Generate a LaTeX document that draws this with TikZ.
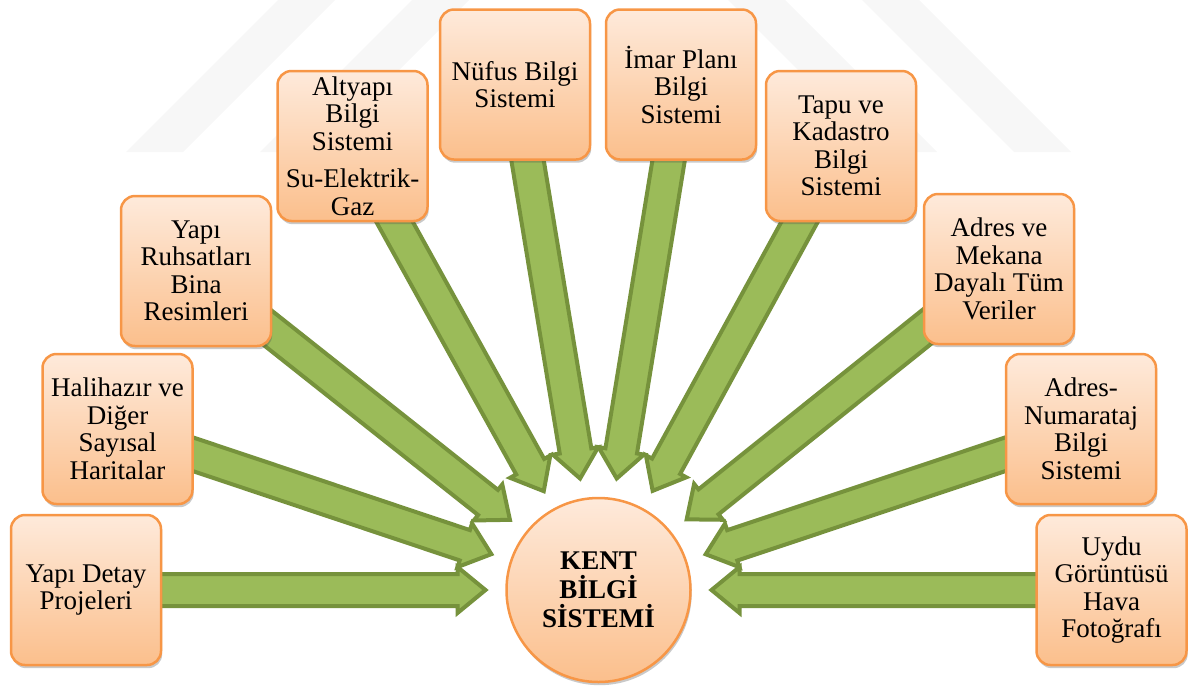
\documentclass[tikz,border=0pt]{standalone}
\usepackage{fontspec}
\setmainfont{Liberation Serif}
\usetikzlibrary{calc,shadows,backgrounds}
\definecolor{boxtop}{HTML}{FEEADB}
\definecolor{boxbot}{HTML}{FBBF8C}
\definecolor{boxline}{HTML}{F79646}
\definecolor{arrfill}{HTML}{9BBB59}
\definecolor{arrline}{HTML}{76923C}
\definecolor{wmark}{HTML}{F7F7F7}
\tikzset{
  kbox/.style={draw=boxline, line width=1.25pt, rounded corners=7pt,
    top color=boxtop, bottom color=boxbot,
    minimum width=75pt, minimum height=75pt, inner sep=0pt, align=center,
    font=\fontsize{13.5}{13.75}\selectfont,
    drop shadow={shadow xshift=0.6pt, shadow yshift=-1.6pt, opacity=0.3, fill=black!70}},
  kcircle/.style={circle, draw=boxline, line width=1.25pt,
    top color=boxtop, bottom color=boxbot,
    minimum size=92pt, inner sep=0pt, align=center,
    font=\fontsize{13.5}{14.5}\selectfont\bfseries,
    drop shadow={shadow xshift=0.6pt, shadow yshift=-1.6pt, opacity=0.3, fill=black!70}},
  karrow/.style={fill=arrfill, draw=arrline, line width=2pt, line join=miter},
  wm/.style={fill=wmark, draw=none}
}
\newcommand{\blockarr}[2]{%
  \coordinate (hb) at ($(#2)!14pt!(#1.center)$);
  \draw[karrow] ($(#1.center)!8pt!90:(#2)$) -- ($(hb)!8pt!90:(#2)$) -- ($(hb)!11.5pt!90:(#2)$) -- (#2)
    -- ($(hb)!11.5pt!-90:(#2)$) -- ($(hb)!8pt!-90:(#2)$) -- ($(#1.center)!8pt!-90:(#2)$) -- cycle;
}
\begin{document}
\begin{tikzpicture}[x=0.5pt,y=-0.5pt]
\useasboundingbox (0,0) rectangle (1188,687);
% nodes
\node[kbox] (b1) at (86,590) {Yapı Detay\\Projeleri};
\node[kbox] (b2) at (117.5,429) {Halihazır ve\\Diğer\\Sayısal\\Haritalar};
\node[kbox] (b3) at (196,271) {Yapı\\Ruhsatları\\Bina\\Resimleri};
\node[kbox] (b4) at (352.5,146) {Altyapı\\Bilgi\\Sistemi\\[5pt]Su-Elektrik-\\Gaz};
\node[kbox] (b5) at (515,84.5) {Nüfus Bilgi\\Sistemi};
\node[kbox] (b6) at (681,84.5) {İmar Planı\\Bilgi\\Sistemi};
\node[kbox] (b7) at (841,146) {Tapu ve\\Kadastro\\Bilgi\\Sistemi};
\node[kbox] (b8) at (999,269) {Adres ve\\Mekana\\Dayalı Tüm\\Veriler};
\node[kbox] (b9) at (1081,429) {Adres-\\Numarataj\\Bilgi\\Sistemi};
\node[kbox] (b10) at (1111.5,590) {Uydu\\Görüntüsü\\Hava\\Fotoğrafı};
\node[kcircle] (k) at (598.5,590) {KENT\\BİLGİ\\SİSTEMİ};
\begin{pgfonlayer}{background}
  % watermark
  \fill[wm] (126,152) -- (183,152) -- (335,0) -- (278,0) -- cycle;
  \fill[wm] (260,152) -- (317,152) -- (469,0) -- (412,0) -- cycle;
  \fill[wm] (1071,152) -- (1014,152) -- (862,0) -- (919,0) -- cycle;
  \fill[wm] (937,152) -- (880,152) -- (728,0) -- (785,0) -- cycle;
  % arrow tips
  \foreach \i in {1,...,10} {\coordinate (t\i) at ($(k.center)!56.5pt!(b\i.center)$);}
  \blockarr{b5}{t5}
  \blockarr{b6}{t6}
  \blockarr{b4}{t4}
  \blockarr{b7}{t7}
  \blockarr{b3}{t3}
  \blockarr{b8}{t8}
  \blockarr{b2}{t2}
  \blockarr{b9}{t9}
  \blockarr{b1}{t1}
  \blockarr{b10}{t10}
\end{pgfonlayer}
\end{tikzpicture}
\end{document}
